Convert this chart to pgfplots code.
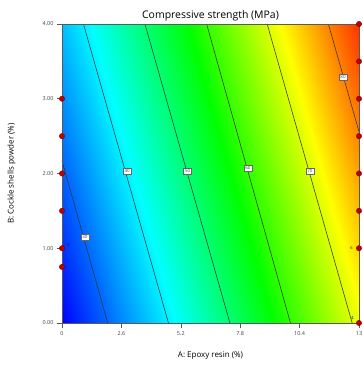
\documentclass[border=0pt]{standalone}
\usepackage{fontspec}
\setmainfont{Open Sans}
\usepackage{pgfplots}
\pgfplotsset{compat=1.18}
\begin{document}
\begin{tikzpicture}
\pgfplotsset{
  colormap={de}{rgb255(0pt)=(0,0,255) rgb255(18.5pt)=(0,255,255) rgb255(34.5pt)=(0,255,0) rgb255(49.5pt)=(255,255,0) rgb255(65.5pt)=(255,0,0)}
}
\begin{axis}[
  name=ax,
  view={0}{90},
  scale only axis,
  width=297bp, height=299bp,
  xmin=0, xmax=13, ymin=0, ymax=4, zmin=0, zmax=1,
  ztick=\empty,
  xtick={0,2.6,5.2,7.8,10.4,13},
  xticklabels={0,2.6,5.2,7.8,10.4,13},
  ytick={0,1,2,3,4},
  yticklabels={0.00,1.00,2.00,3.00,4.00},
  tick align=outside,
  major tick length=5bp,
  xtick pos=left, ytick pos=left,
  tick style={gray!70!black, line width=0.5pt},
  tick label style={font=\fontsize{5.5}{6.5}\selectfont, text=black!75},
  axis line style={gray!70!black, line width=0.5pt},
  colormap name=de,
  point meta min=22.5, point meta max=88,
  clip=false,
  title={Compressive strength (MPa)},
  title style={font=\fontsize{10.5}{12}\selectfont, at={(axis description cs:0.5,1.0)}, anchor=south, yshift=-7bp},
  xlabel={A: Epoxy resin (\%)},
  xlabel style={font=\fontsize{8}{9}\selectfont, at={(axis description cs:0.5,-0.11)}, anchor=center},
  ylabel={B: Cockle shells powder (\%)},
  ylabel style={font=\fontsize{8}{9}\selectfont, at={(axis description cs:-0.17,0.5)}, anchor=center, rotate=0},
]
\addplot3[surf, shader=interp, mesh/rows=5, point meta=explicit] table[meta=f] {
x y z f
0 0 0 22.54
1.3 0 0 27.39
2.6 0 0 32.24
3.9 0 0 37.09
5.2 0 0 41.94
6.5 0 0 46.79
7.8 0 0 51.63
9.1 0 0 56.48
10.4 0 0 61.33
11.7 0 0 66.18
13 0 0 71.03
0 1 0 26.01
1.3 1 0 30.86
2.6 1 0 35.71
3.9 1 0 40.56
5.2 1 0 45.41
6.5 1 0 50.26
7.8 1 0 55.10
9.1 1 0 59.95
10.4 1 0 64.80
11.7 1 0 69.65
13 1 0 74.50
0 2 0 29.48
1.3 2 0 34.33
2.6 2 0 39.18
3.9 2 0 44.03
5.2 2 0 48.88
6.5 2 0 53.73
7.8 2 0 58.57
9.1 2 0 63.42
10.4 2 0 68.27
11.7 2 0 73.12
13 2 0 77.97
0 3 0 32.95
1.3 3 0 37.80
2.6 3 0 42.65
3.9 3 0 47.50
5.2 3 0 52.35
6.5 3 0 57.20
7.8 3 0 62.04
9.1 3 0 66.89
10.4 3 0 71.74
11.7 3 0 76.59
13 3 0 81.44
0 4 0 36.42
1.3 4 0 41.27
2.6 4 0 46.12
3.9 4 0 50.97
5.2 4 0 55.82
6.5 4 0 60.67
7.8 4 0 65.51
9.1 4 0 70.36
10.4 4 0 75.21
11.7 4 0 80.06
13 4 0 84.91
};
% contour lines
\addplot3[black!80, line width=0.55pt] coordinates {(2.0,0,0) (0,2.17,0)};
\addplot3[black!80, line width=0.55pt] coordinates {(4.66,0,0) (0.94,4,0)};
\addplot3[black!80, line width=0.55pt] coordinates {(7.35,0,0) (3.63,4,0)};
\addplot3[black!80, line width=0.55pt] coordinates {(10.0,0,0) (6.33,4,0)};
\addplot3[black!80, line width=0.55pt] coordinates {(12.70,0,0) (8.98,4,0)};
\addplot3[black!80, line width=0.55pt] coordinates {(11.66,4,0) (13,2.56,0)};
% contour labels
\tikzset{clab/.style={draw=gray!80!black, fill=white, inner sep=1.4bp, font=\fontsize{4.5}{5}\selectfont, text=black!70}}
\node[clab] at (axis cs:1.0,1.15,0) {30};
\node[clab] at (axis cs:2.85,2.03,0) {40};
\node[clab] at (axis cs:5.5,2.03,0) {50};
\node[clab] at (axis cs:8.14,2.07,0) {60};
\node[clab] at (axis cs:10.85,2.03,0) {70};
\node[clab] at (axis cs:12.3,3.29,0) {80};
% design points
\addplot3[only marks, mark=*, mark size=2.7bp, mark options={fill=red!75!black, draw=red!40!black, line width=0.3pt}] coordinates {
(0,3,0) (0,2.5,0) (0,2,0) (0,1.5,0) (0,1,0) (0,0.75,0)
(13,4,0) (13,3.5,0) (13,3,0) (13,2.5,0) (13,2,0) (13,1.5,0) (13,1,0) (13,0,0)
};
\node[font=\fontsize{4}{4.5}\selectfont, anchor=south west, inner sep=0.5bp] at (axis cs:0.2,1.02,0) {7};
\node[font=\fontsize{4}{4.5}\selectfont, anchor=east, inner sep=0.5bp] at (axis cs:12.75,1,0) {6};
\node[font=\fontsize{4}{4.5}\selectfont, anchor=south east, inner sep=0.5bp] at (axis cs:12.8,0.04,0) {4};
\end{axis}
\pgfresetboundingbox
\path[use as bounding box] ([shift={(-62bp,-42bp)}]ax.south west) rectangle ([shift={(4bp,24bp)}]ax.north east);
\end{tikzpicture}
\end{document}
